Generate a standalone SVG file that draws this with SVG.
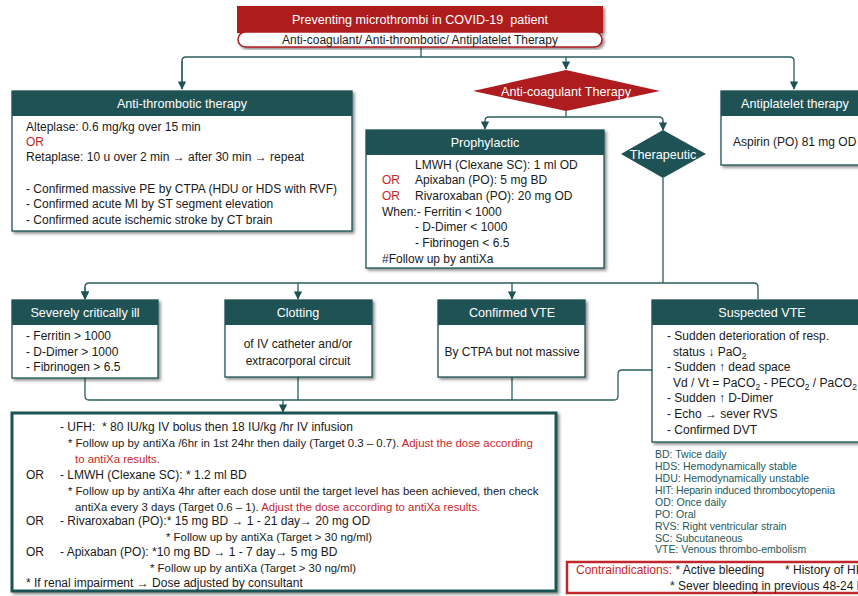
<svg xmlns="http://www.w3.org/2000/svg" width="858" height="596" viewBox="0 0 858 596">
<style>
.hdr{fill:#1F5254}
.box{fill:#fff;stroke:#1F5254;stroke-width:1.3}
.ht{fill:#fff;font-family:"Liberation Sans",Arial,sans-serif;font-size:12.6px;text-anchor:middle}
.t{fill:#1a1a1a;font-family:"Liberation Sans",Arial,sans-serif;font-size:12px}
.s{fill:#1a1a1a;font-family:"Liberation Sans",Arial,sans-serif;font-size:11.4px}
.c{text-anchor:middle}
.red{fill:#C8262B}
.leg{fill:#24585A;font-family:"Liberation Sans",Arial,sans-serif;font-size:10.5px}
.conn{fill:none;stroke:#2B5D5E;stroke-width:1.3}
</style>
<defs>
<filter id="sh" x="-5%" y="-5%" width="115%" height="120%">
<feDropShadow dx="2" dy="2" stdDeviation="1.5" flood-color="#000" flood-opacity="0.45"/>
</filter>
<marker id="ar" viewBox="0 0 10 10" refX="9" refY="5" markerWidth="6.5" markerHeight="6.5" orient="auto">
<path d="M0,0 L10,5 L0,10 z" fill="#1F5254"/>
</marker>
</defs>
<rect width="858" height="596" fill="#fff"/>

<g id="connectors">
<path class="conn" d="M421,47 V57"/>
<path class="conn" d="M182,89 V61 Q182,57 186,57 H790 Q794,57 794,61 V89" marker-end="url(#ar)"/>
<path class="conn" d="M182,61 V89" marker-end="url(#ar)"/>
<path class="conn" d="M566,57 V69" marker-end="url(#ar)"/>
<path class="conn" d="M566,111 V117"/>
<path class="conn" d="M663,130 V121 Q663,117 659,117 H489 Q485,117 485,121 V129" marker-end="url(#ar)"/>
<path class="conn" d="M663,121 V130" marker-end="url(#ar)"/>
<path class="conn" d="M663,178 V283"/>
<path class="conn" d="M758,299 V287 Q758,283 754,283 H89 Q85,283 85,287 V299" marker-end="url(#ar)"/>
<path class="conn" d="M85,287 V299" marker-end="url(#ar)"/>
<path class="conn" d="M298,283 V299" marker-end="url(#ar)"/>
<path class="conn" d="M512,283 V299" marker-end="url(#ar)"/>
<path class="conn" d="M85,378 V396 Q85,400 89,400 H614 Q618,400 618,396 V374 Q618,370 622,370 H652"/>
<path class="conn" d="M298,377 V400"/>
<path class="conn" d="M512,377 V400"/>
<path class="conn" d="M283,400 V412" marker-end="url(#ar)"/>
</g>

<g id="title">
<rect x="237" y="6" width="366" height="27" fill="#AE1C1F" filter="url(#sh)"/>
<text class="ht" x="420" y="23.5" xml:space="preserve">Preventing microthrombi in COVID-19  patient</text>
<rect x="238" y="32" width="364" height="15" rx="7.5" fill="#fff" stroke="#AE1C1F" stroke-width="1.5" filter="url(#sh)"/>
<text class="t c" x="420" y="44">Anti-coagulant/ Anti-thrombotic/ Antiplatelet Therapy</text>
</g>

<g id="anti-thrombotic">
<rect class="box" x="12" y="91" width="340" height="140" filter="url(#sh)"/>
<rect class="hdr" x="12" y="91" width="340" height="25"/>
<text class="ht" x="182" y="108">Anti-thrombotic therapy</text>
<text class="t" x="26" y="131">Alteplase: 0.6 mg/kg over 15 min</text>
<text class="t red" x="26" y="146">OR</text>
<text class="t" x="26" y="161">Retaplase: 10 u over 2 min → after 30 min → repeat</text>
<text class="t" x="26" y="193">- Confirmed massive PE by CTPA (HDU or HDS with RVF)</text>
<text class="t" x="26" y="208">- Confirmed acute MI by ST segment elevation</text>
<text class="t" x="26" y="224">- Confirmed acute ischemic stroke by CT brain</text>
</g>

<g id="anti-coagulant">
<polygon points="566,70 660,91 566,111 473,91" fill="#AE1C1F"/>
<text class="ht" x="566" y="95.5">Anti-coagulant Therapy</text>
</g>

<g id="antiplatelet">
<rect class="box" x="721" y="91" width="150" height="74" filter="url(#sh)"/>
<rect class="hdr" x="721" y="91" width="150" height="25"/>
<text class="ht" x="795" y="108">Antiplatelet therapy</text>
<text class="t" x="733" y="146">Aspirin (PO) 81 mg OD</text>
</g>

<g id="prophylactic">
<rect class="box" x="366" y="130" width="238" height="138" filter="url(#sh)"/>
<rect class="hdr" x="366" y="130" width="238" height="25"/>
<text class="ht" x="485" y="147">Prophylactic</text>
<text class="t" x="415" y="169">LMWH (Clexane SC): 1 ml OD</text>
<text class="t red" x="382" y="184">OR</text>
<text class="t" x="415" y="184">Apixaban (PO): 5 mg BD</text>
<text class="t red" x="382" y="200">OR</text>
<text class="t" x="415" y="200">Rivaroxaban (PO): 20 mg OD</text>
<text class="t" x="382" y="216">When:- Ferritin &lt; 1000</text>
<text class="t" x="415" y="231">- D-Dimer &lt; 1000</text>
<text class="t" x="415" y="247">- Fibrinogen &lt; 6.5</text>
<text class="t" x="382" y="263">#Follow up by antiXa</text>
</g>

<g id="therapeutic">
<polygon points="663,130 706,154 663,178 621,154" fill="#1F5254"/>
<text class="ht" x="663" y="158.5" font-size="12.3px">Therapeutic</text>
</g>

<g id="severely">
<rect class="box" x="12" y="300" width="146" height="78" filter="url(#sh)"/>
<rect class="hdr" x="12" y="300" width="146" height="25"/>
<text class="ht" x="85" y="317">Severely critically ill</text>
<text class="t" x="26" y="340">- Ferritin &gt; 1000</text>
<text class="t" x="26" y="356">- D-Dimer &gt; 1000</text>
<text class="t" x="26" y="371">- Fibrinogen &gt; 6.5</text>
</g>

<g id="clotting">
<rect class="box" x="225" y="300" width="147" height="77" filter="url(#sh)"/>
<rect class="hdr" x="225" y="300" width="147" height="25"/>
<text class="ht" x="298" y="317">Clotting</text>
<text class="t c" x="298" y="348">of IV catheter and/or</text>
<text class="t c" x="298" y="365">extracorporal circuit</text>
</g>

<g id="confirmed-vte">
<rect class="box" x="438" y="300" width="147" height="77" filter="url(#sh)"/>
<rect class="hdr" x="438" y="300" width="147" height="25"/>
<text class="ht" x="512" y="317">Confirmed VTE</text>
<text class="t c" x="512" y="356">By CTPA but not massive</text>
</g>

<g id="suspected-vte">
<rect class="box" x="652" y="300" width="220" height="142" filter="url(#sh)"/>
<rect class="hdr" x="652" y="300" width="220" height="25"/>
<text class="ht" x="762" y="317">Suspected VTE</text>
<text class="t" x="667" y="340">- Sudden deterioration of resp.</text>
<text class="t" x="673" y="356">status ↓ PaO<tspan dy="3" font-size="8.5">2</tspan></text>
<text class="t" x="667" y="371">- Sudden ↑ dead space</text>
<text class="t" x="673" y="387" font-size="11.6px">Vd / Vt = PaCO<tspan dy="3" font-size="8.5">2</tspan><tspan dy="-3"> - PECO</tspan><tspan dy="3" font-size="8.5">2</tspan><tspan dy="-3"> / PaCO</tspan><tspan dy="3" font-size="8.5">2</tspan></text>
<text class="t" x="667" y="402">- Sudden ↑ D-Dimer</text>
<text class="t" x="667" y="418">- Echo → sever RVS</text>
<text class="t" x="667" y="434">- Confirmed DVT</text>
</g>

<g id="therapeutic-regimens">
<rect x="12" y="413" width="544" height="178" fill="#fff" stroke="#1F5254" stroke-width="3" filter="url(#sh)"/>
<text class="t" x="60" y="431">- UFH:<tspan x="102">* 80 IU/kg IV bolus then 18 IU/kg /hr IV infusion</tspan></text>
<text class="s" x="68" y="447">* Follow up by antiXa /6hr in 1st 24hr then daily (Target 0.3 – 0.7). <tspan class="red">Adjust the dose according</tspan></text>
<text class="s red" x="75" y="463">to antiXa results.</text>
<text class="t" x="26" y="479">OR</text>
<text class="t" x="60" y="479">- LMWH (Clexane SC): * 1.2 ml BD</text>
<text class="s" x="68" y="495">* Follow up by antiXa 4hr after each dose until the target level has been achieved, then check</text>
<text class="s" x="75" y="511">antiXa every 3 days (Target 0.6 – 1). <tspan class="red">Adjust the dose according to antiXa results.</tspan></text>
<text class="t" x="26" y="525">OR</text>
<text class="t" x="60" y="525">- Rivaroxaban (PO):* 15 mg BD → 1 - 21 day→ 20 mg OD</text>
<text class="s" x="166" y="541">* Follow up by antiXa (Target &gt; 30 ng/ml)</text>
<text class="t" x="26" y="556">OR</text>
<text class="t" x="60" y="556">- Apixaban (PO): *10 mg BD → 1 - 7 day→ 5 mg BD</text>
<text class="s" x="150" y="572">* Follow up by antiXa (Target &gt; 30 ng/ml)</text>
<text class="t" x="26" y="587">* If renal impairment → Dose adjusted by consultant</text>
</g>

<g id="legend">
<text class="leg" x="655" y="458">BD: Twice daily</text>
<text class="leg" x="655" y="470">HDS: Hemodynamically stable</text>
<text class="leg" x="655" y="482">HDU: Hemodynamically unstable</text>
<text class="leg" x="655" y="494" textLength="180" lengthAdjust="spacing">HIT: Heparin induced thrombocytopenia</text>
<text class="leg" x="655" y="506">OD: Once daily</text>
<text class="leg" x="655" y="518">PO: Oral</text>
<text class="leg" x="655" y="530">RVS: Right ventricular strain</text>
<text class="leg" x="655" y="542">SC: Subcutaneous</text>
<text class="leg" x="655" y="553">VTE: Venous thrombo-embolism</text>
</g>

<g id="contraindications">
<rect x="567" y="562" width="300" height="31" fill="#fff" stroke="#C0262B" stroke-width="2.5"/>
<text class="t" x="576" y="574"><tspan class="red">Contraindications:</tspan> * Active bleeding</text>
<text class="t" x="785" y="574">* History of HIT</text>
<text class="t" x="670" y="590">* Sever bleeding in previous 48-24 hr</text>
</g>
</svg>
